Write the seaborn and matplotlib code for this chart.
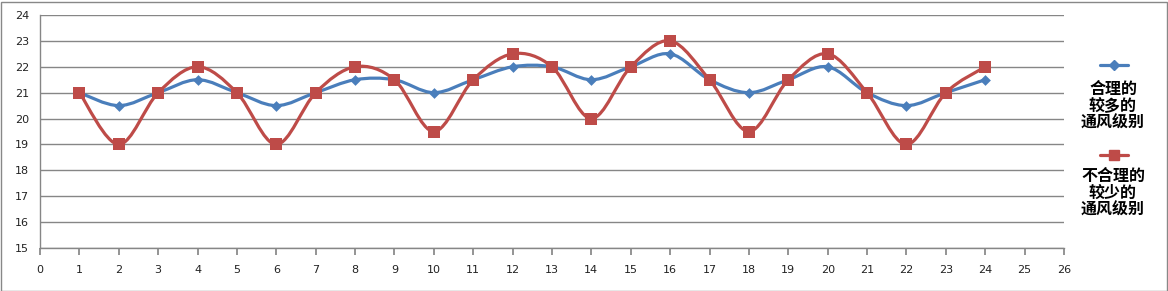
import numpy as np
import pandas as pd
import matplotlib
matplotlib.use("Agg")
import matplotlib.pyplot as plt
import seaborn as sns
from matplotlib.path import Path
from matplotlib.patches import PathPatch, Rectangle
from matplotlib.lines import Line2D

x_vals = list(range(1, 25))
series_a = [21, 20.5, 21, 21.5, 21, 20.5, 21, 21.5, 21.5, 21, 21.5, 22,
            22, 21.5, 22, 22.5, 21.5, 21, 21.5, 22, 21, 20.5, 21, 21.5]
series_b = [21, 19, 21, 22, 21, 19, 21, 22, 21.5, 19.5, 21.5, 22.5,
            22, 20, 22, 23, 21.5, 19.5, 21.5, 22.5, 21, 19, 21, 22]
label_a = "合理的\n较多的\n通风级别"
label_b = "不合理的\n较少的\n通风级别"
x_ticks = list(range(0, 27))
y_ticks = list(range(15, 25))

BLUE = "#4A7EBB"
RED = "#BE4B48"

sns.set_theme(style="white")
plt.rcParams['font.family'] = ['DejaVu Sans', 'Noto Sans CJK SC']

fig = plt.figure(figsize=(11.68, 2.91), dpi=100)
ax = fig.add_axes([40/1168, 1-248/291, (1064-40)/1168, (248-15)/291])

def smooth_path(xs, ys):
    pts = np.column_stack([xs, ys]).astype(float)
    n = len(pts)
    verts = [pts[0]]
    codes = [Path.MOVETO]
    for i in range(n - 1):
        p0 = pts[i - 1] if i > 0 else pts[i]
        p1 = pts[i]
        p2 = pts[i + 1]
        p3 = pts[i + 2] if i + 2 < n else pts[i + 1]
        c1 = p1 + (p2 - p0) / 6.0
        c2 = p2 - (p3 - p1) / 6.0
        verts += [c1, c2, p2]
        codes += [Path.CURVE4] * 3
    return Path(verts, codes)

df = pd.DataFrame({"x": x_vals * 2, "y": series_a + series_b,
                   "s": ["a"] * len(x_vals) + ["b"] * len(x_vals)})

for ys, col, z in [(series_a, BLUE, 3), (series_b, RED, 4)]:
    ax.add_patch(PathPatch(smooth_path(x_vals, ys), facecolor="none",
                           edgecolor=col, lw=2.3, zorder=z, capstyle="round"))

sns.scatterplot(data=df[df.s == "a"], x="x", y="y", marker="D", s=30,
                color=BLUE, edgecolor=BLUE, linewidth=0, ax=ax, zorder=5, legend=False)
sns.scatterplot(data=df[df.s == "b"], x="x", y="y", marker="s", s=75,
                color=RED, edgecolor=RED, linewidth=0, ax=ax, zorder=6, legend=False)

ax.set_xlim(0, 26)
ax.set_ylim(15, 24)
ax.set_xticks(x_ticks)
ax.set_yticks(y_ticks)
ax.set_xlabel("")
ax.set_ylabel("")
ax.yaxis.grid(True, color="#868686", lw=1)
ax.xaxis.grid(False)
for s in ["top", "right"]:
    ax.spines[s].set_visible(False)
for s in ["left", "bottom"]:
    ax.spines[s].set_color("#868686")
    ax.spines[s].set_linewidth(1)
ax.tick_params(axis="x", direction="out", length=5, color="#868686",
               labelsize=8, pad=7, labelcolor="#222222", bottom=True)
ax.tick_params(axis="y", direction="out", length=0, labelsize=8, pad=8,
               labelcolor="#222222", left=False)
for lbl in ax.get_yticklabels():
    lbl.set_ha("right")

# legend (manual, marker line above text like the original)
def fx(px):
    return px / 1168
def fy(py):
    return 1 - py / 291

for ly, col, mk, ms, txt, ty in [(65, BLUE, "D", 5, label_a, 90),
                                  (155, RED, "s", 7.5, label_b, 177)]:
    fig.add_artist(Line2D([fx(1100), fx(1128)], [fy(ly), fy(ly)], color=col,
                          lw=2.3, transform=fig.transFigure))
    fig.add_artist(Line2D([fx(1114)], [fy(ly)], color=col, marker=mk, ms=ms,
                          mec=col, lw=0, transform=fig.transFigure))
    fig.text(fx(1113), fy(ty - 9), txt, ha="center", va="top", fontsize=11.5,
             family=["Noto Sans CJK SC", "DejaVu Sans"], fontweight="bold",
             linespacing=1.05, color="#000000")

fig.add_artist(Rectangle((0.5/1168, 0.5/291), 1 - 2/1168, 1 - 2/291,
                         transform=fig.transFigure, fill=False,
                         edgecolor="#888888", lw=1))

fig.savefig("out.png", dpi=100)
